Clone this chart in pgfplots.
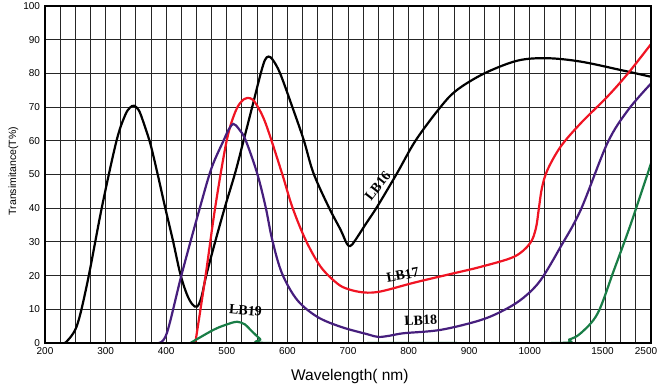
\documentclass[border=0pt]{standalone}
\usepackage{pgfplots}
\pgfplotsset{compat=1.18}
\usepackage{fontspec}
\setmainfont{Liberation Sans}
\newfontfamily\serifb{Liberation Serif}
\definecolor{lbred}{RGB}{240,20,35}
\definecolor{lbpurple}{RGB}{70,30,125}
\definecolor{lbgreen}{RGB}{25,125,70}
\begin{document}
\begin{tikzpicture}
\path[use as bounding box] (-45pt,-47pt) rectangle (615pt,343pt);
\begin{axis}[
 scale only axis, width=606pt, height=337pt, at={(0,0)}, anchor=south west,
 xmin=200, xmax=1200, ymin=0, ymax=100,
 xtick={200,300,...,1000,1120},
 xticklabels={200,300,400,500,600,700,800,900,1000,1500},
 extra x ticks={1200}, extra x tick labels={2500},
 extra x tick style={grid=none, xticklabel style={xshift=-5pt}},
 minor xtick={200,225,...,1200},
 ytick={0,10,...,100},
 xminorgrids=true, xmajorgrids=false, ymajorgrids=true,
 minor grid style={black!85, line width=1pt},
 major grid style={black!85, line width=1pt},
 major tick length=0pt, minor tick length=0pt,
 axis line style={line width=2.6pt},
 tick label style={font=\fontsize{10}{11}\selectfont},
 yticklabel style={xshift=-1.5pt},
 xticklabel style={yshift=-1pt},
 /pgf/number format/assume math mode=true,
 xlabel={Wavelength( nm)}, ylabel={Transimitance(T\%)},
 xlabel style={font=\fontsize{15.5}{16}\selectfont, at={(axis description cs:0.503,-0.098)}, anchor=center},
 ylabel style={font=\fontsize{10.5}{12}\selectfont, at={(axis description cs:-0.0523,0.51)}, anchor=center},
 every axis plot/.append style={line width=2.2pt, smooth, tension=0.55},
 after end axis/.code={\draw[line width=2.6pt] (rel axis cs:0,0) rectangle (rel axis cs:1,1);},
]
% LB16
\addplot[black] coordinates {
(233,0) (252,4.8) (270,18) (294,40.4) (318,60) (332,67.5) (340,69.8) (347,70.4) (355,69)
(363,65.2) (374,59) (386,50) (398,40.4) (411,30.5) (423,20.7) (434,14.5) (443,11.5) (451,10.8)
(458,13.5) (466,20) (480,29.5) (497,40.4)
(514,50.6) (528,60.3) (542,70.1) (556,80) (563,84) (569,85) (576,84) (588,80) (608,70.1) (627,60.2) (643,50.4)
(668,40.4) (688,33.5) (698,29.5) (704,28.8) (712,30.5) (730,35.5) (748,40.4) (781,50.4) (812,60.2)
(853,70.1) (880,75.1) (925,80) (980,83.8) (1029,84.5) (1084,83.5) (1150,81) (1200,79)};
% LB17
\addplot[lbred] coordinates {
(448,0) (465,20) (481,40.4) (500,60.2) (515,69) (528,72.3) (539,72.6) (548,71) (564,65.2)
(591,50.4) (608,40.4) (630,30.6) (655,22.6) (682,17.7) (700,16) (726,15) (754,15.3)
(809,17.9) (870,20.5) (919,22.6) (974,25.6) (1000,29.5) (1010,34) (1015,40) (1020,46)
(1029,51.3) (1051,58.3) (1084,65.2) (1128,73.1) (1162,80) (1200,88.7)};
% LB18
\addplot[lbpurple] coordinates {
(387,0) (401,2.9) (426,20.7) (456,40.4) (475,52) (495,60.2) (503,63.3) (511,65) (520,63.5)
(531,60.2) (550,50.4) (564,40.4) (575,30.6) (591,20.7) (616,12.8) (649,7.8) (688,4.8)
(732,2.6) (750,1.8) (770,2.2) (792,2.9) (853,3.9) (919,6.8) (960,10) (990,13.5)
(1018,18.7) (1051,28.6) (1084,39.5) (1128,59.3) (1162,69.1) (1200,77)};
% LB19
\addplot[lbgreen] coordinates {
(440,0) (478,3.9) (500,5.5) (517,6.3) (530,5.5) (539,3.9) (555,1.2) (566,0)
(800,0) (1046,0) (1065,1) (1084,2.9) (1112,8.8) (1139,21.7) (1167,35.5) (1200,53.3)};
\node[font=\serifb\bfseries\fontsize{14}{14}\selectfont, rotate=52] at (axis cs:749,46.6) {LB16};
\node[font=\serifb\bfseries\fontsize{14}{14}\selectfont, rotate=10] at (axis cs:790,20.2) {LB17};
\node[font=\serifb\bfseries\fontsize{14}{14}\selectfont, rotate=3] at (axis cs:820,6.7) {LB18};
\node[font=\serifb\bfseries\fontsize{14}{14}\selectfont, rotate=-5] at (axis cs:531,9.7) {LB19};
\end{axis}
\end{tikzpicture}
\end{document}
